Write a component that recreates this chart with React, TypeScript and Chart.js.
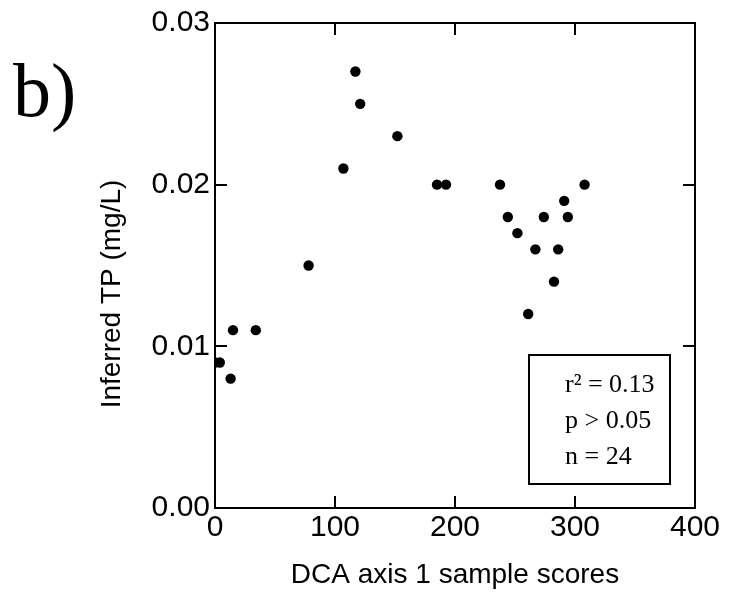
import { useEffect, useRef } from "react";
import { Chart, registerables } from "chart.js";

Chart.register(...registerables);

// DCA axis 1 sample scores and the inferred total phosphorus of each sample
const scores = [0, 4, 13, 15, 34, 78, 107, 117, 121, 152, 185, 192.5, 237.5, 244, 252, 261, 267, 274, 282.5, 286, 291, 294, 308];
const inferredTP = [0.009, 0.009, 0.008, 0.011, 0.011, 0.015, 0.021, 0.027, 0.025, 0.023, 0.02, 0.02, 0.02, 0.018, 0.017, 0.012, 0.016, 0.018, 0.014, 0.016, 0.019, 0.018, 0.02];

const xTickValues = [0, 100, 200, 300, 400];
const yTickValues = [0, 0.01, 0.02, 0.03];

const xTitle = "DCA axis 1 sample scores";
const yTitle = "Inferred TP (mg/L)";
const panelLabel = "b)";
const statsLines = ["r² = 0.13", "p > 0.05", "n = 24"];

const SANS = "'Liberation Sans', Arial, sans-serif";
const SERIF = "'Liberation Serif', 'Times New Roman', serif";

// Frame, inward tick marks, y title, panel letter and statistics box
const decorations = {
  id: "decorations",
  afterDraw(chart: any) {
    const { ctx, chartArea } = chart;
    const { left, right, top, bottom } = chartArea;
    const xs = chart.scales.x;
    const ys = chart.scales.y;
    ctx.save();
    ctx.strokeStyle = "#000";
    ctx.lineWidth = 2;
    ctx.strokeRect(left, top, right - left, bottom - top);

    const tick = 12;
    ctx.beginPath();
    xTickValues.slice(1, -1).forEach((v) => {
      const px = Math.round(xs.getPixelForValue(v));
      ctx.moveTo(px, bottom);
      ctx.lineTo(px, bottom - tick);
      ctx.moveTo(px, top);
      ctx.lineTo(px, top + tick);
    });
    yTickValues.slice(1, -1).forEach((v) => {
      const py = Math.round(ys.getPixelForValue(v));
      ctx.moveTo(left, py);
      ctx.lineTo(left + tick, py);
      ctx.moveTo(right, py);
      ctx.lineTo(right - tick, py);
    });
    ctx.stroke();

    ctx.fillStyle = "#000";

    // y-axis title, rotated
    ctx.save();
    ctx.translate(112, 294);
    ctx.rotate(-Math.PI / 2);
    ctx.font = `28px ${SANS}`;
    ctx.textAlign = "center";
    ctx.textBaseline = "middle";
    ctx.fillText(yTitle, 0, 0);
    ctx.restore();

    // panel letter
    ctx.font = `76px ${SERIF}`;
    ctx.textAlign = "left";
    ctx.textBaseline = "alphabetic";
    ctx.fillText(panelLabel, 13, 116);

    // statistics box
    const bx = left + 314;
    const by = top + 332;
    const bw = 141;
    const bh = 129;
    ctx.strokeRect(bx, by, bw, bh);
    ctx.font = `26px ${SERIF}`;
    ctx.textBaseline = "middle";
    statsLines.forEach((line, i) => {
      ctx.fillText(line, bx + 36, by + 30 + i * 36);
    });
    ctx.restore();
  },
};

export default function App() {
  const canvasRef = useRef<HTMLCanvasElement | null>(null);

  useEffect(() => {
    if (!canvasRef.current) return;
    const chart = new Chart(canvasRef.current, {
      type: "scatter",
      data: {
        datasets: [
          {
            data: scores.map((x, i) => ({ x, y: inferredTP[i] })),
            backgroundColor: "#000",
            borderWidth: 0,
            pointRadius: 5.2,
            pointHoverRadius: 5.2,
          },
        ],
      },
      options: {
        animation: false,
        responsive: true,
        maintainAspectRatio: false,
        layout: { padding: { left: 0, right: 34, top: 22, bottom: 0 } },
        plugins: {
          legend: { display: false },
          tooltip: { enabled: false },
        },
        scales: {
          x: {
            type: "linear",
            min: 0,
            max: 400,
            afterFit: (scale: any) => {
              scale.height = 87;
            },
            afterBuildTicks: (scale: any) => {
              scale.ticks = xTickValues.map((value) => ({ value }));
            },
            grid: { display: false, drawTicks: false },
            border: { display: false },
            ticks: {
              color: "#000",
              padding: 2,
              maxRotation: 0,
              font: { family: SANS, size: 30 },
              callback: (v: any) => String(v),
            },
            title: {
              display: true,
              text: xTitle,
              color: "#000",
              font: { family: SANS, size: 28 },
              padding: { top: 0, bottom: 3 },
            },
          },
          y: {
            type: "linear",
            min: 0,
            max: 0.03,
            afterFit: (scale: any) => {
              scale.width = 215;
            },
            afterBuildTicks: (scale: any) => {
              scale.ticks = yTickValues.map((value) => ({ value }));
            },
            grid: { display: false, drawTicks: false },
            border: { display: false },
            ticks: {
              color: "#000",
              padding: 5,
              font: { family: SANS, size: 30 },
              callback: (v: any) => Number(v).toFixed(2),
            },
            title: { display: false },
          },
        },
      },
      plugins: [decorations],
    });
    return () => chart.destroy();
  }, []);

  return (
    <div style={{ position: "fixed", left: 0, top: 0, width: 729, height: 595, background: "#fff" }}>
      <canvas ref={canvasRef} />
    </div>
  );
}
